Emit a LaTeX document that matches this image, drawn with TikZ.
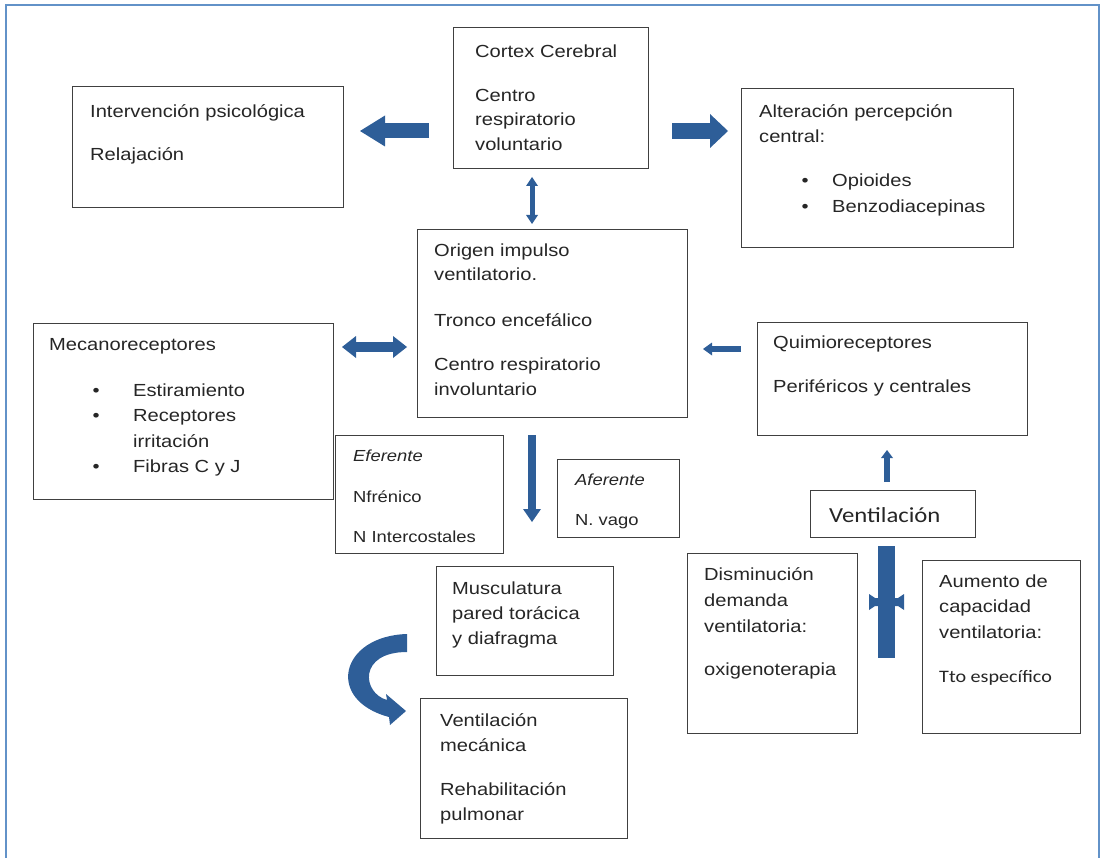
\documentclass[tikz,border=0pt]{standalone}
\usepackage{fontspec}
\setmainfont{Liberation Sans}[FakeStretch=1.15]
\newfontfamily\calib{Carlito}[FakeStretch=1.15]
\usetikzlibrary{arrows.meta}
\definecolor{arrowblue}{RGB}{46,94,152}
\definecolor{frameblue}{RGB}{98,146,200}
% invisible strut fixing the top of every text block 18pt above its first baseline
\newcommand\firstline{\rule{0pt}{18pt}}
% bullet item: indent, bullet column width, text
\newcommand\bul[3]{\hspace*{#1}\makebox[#2][l]{\textbullet}#3}

\begin{document}
\begin{tikzpicture}[x=1pt,y=-1pt,
  box/.style={draw=black!75, line width=1.4pt, fill=white, anchor=north west, inner sep=0pt},
  txt/.style={anchor=north west, yshift=18pt, inner sep=0pt, align=left, text=black!85},
  body/.style={font=\fontsize{17.5}{#1}\selectfont},
  small/.style={font=\fontsize{16}{#1}\selectfont},
  blk/.style={arrowblue, line cap=butt},
]
\useasboundingbox (0,0) rectangle (1102,858);

% page frame, open at the bottom
\draw[frameblue, line width=2pt] (6,858) -- (6,5) -- (1099,5) -- (1099,858);

% ---------- boxes ----------
\node[box, minimum width=195pt, minimum height=141pt] (cortex) at (453,27) {};
\node[box, minimum width=271pt, minimum height=121pt] (psych)  at (72,86) {};
\node[box, minimum width=272pt, minimum height=159pt] (alter)  at (741,88) {};
\node[box, minimum width=270pt, minimum height=188pt] (origen) at (417,229) {};
\node[box, minimum width=300pt, minimum height=176pt] (mecano) at (33,323) {};
\node[box, minimum width=270pt, minimum height=113pt] (quimio) at (757,322) {};
\node[box, minimum width=168pt, minimum height=118pt] (efer)   at (335,435) {};
\node[box, minimum width=122pt, minimum height=78pt]  (afer)   at (557,459) {};
\node[box, minimum width=165pt, minimum height=47pt]  (vent)   at (810,490) {};
\node[box, minimum width=177pt, minimum height=109pt] (musc)   at (436,566) {};
\node[box, minimum width=170pt, minimum height=180pt] (dism)   at (687,553) {};
\node[box, minimum width=158pt, minimum height=173pt] (aum)    at (922,560) {};
\node[box, minimum width=207pt, minimum height=140pt] (vmec)   at (420,698) {};

% ---------- texts ----------
\node[txt, body=24.5] (cortexT) at (475,57)
  {\firstline Cortex Cerebral\\[19.5pt] Centro\\ respiratorio\\ voluntario};
\node[txt, body=25] (psychT) at (90,117)
  {\firstline Intervención psicológica\\[18pt] Relajación};
\node[txt, body=25.5] (alterT) at (759,117)
  {\firstline Alteración percepción\\ central:\\[18.5pt]
   \bul{42.5pt}{30.5pt}{Opioides}\\ \bul{42.5pt}{30.5pt}{Benzodiacepinas}};
\node[txt, body=24.5] (origenT) at (434,256)
  {\firstline Origen impulso\\ ventilatorio.\\[21.5pt] Tronco encefálico\\[19.5pt]
   Centro respiratorio\\ involuntario};
\node[txt, body=25.5] (mecanoT) at (49,350)
  {\firstline Mecanoreceptores\\[20.5pt]
   \bul{43.5pt}{40.5pt}{Estiramiento}\\ \bul{43.5pt}{40.5pt}{Receptores}\\
   \hspace*{84pt}irritación\\ \bul{43.5pt}{40.5pt}{Fibras C y J}};
\node[txt, body=25] (quimioT) at (773,348)
  {\firstline Quimioreceptores\\[19pt] Periféricos y centrales};
\node[txt, small=20] (eferT) at (353,461)
  {\firstline\textit{Eferente}\\[21pt] Nfrénico\\[20pt] N Intercostales};
\node[txt, small=20] (aferT) at (575,485)
  {\firstline\textit{Aferente}\\[20pt] N. vago};
\node[txt, font=\calib\fontsize{21.5}{26}\selectfont] (ventT) at (829,522)
  {\firstline Ventilación};
\node[txt, body=25] (muscT) at (452,594)
  {\firstline Musculatura\\ pared torácica\\ y diafragma};
\node[txt, body=26] (dismT) at (704,580)
  {\firstline Disminución\\ demanda\\ ventilatoria:\\[17pt] oxigenoterapia};
\node[txt, body=25.5] (aumT) at (939,587)
  {\firstline Aumento de\\ capacidad\\ ventilatoria:};
\node[txt, font=\calib\fontsize{17.5}{22}\selectfont] (aumT2) at (939,682)
  {\firstline Tto específico};
\node[txt, body=25] (vmecT) at (440,726)
  {\firstline Ventilación\\ mecánica\\[19pt] Rehabilitación\\ pulmonar};

% ---------- arrow end points ----------
\coordinate (psA) at (429,131);  \coordinate (psB) at (360,131);
\coordinate (alA) at (672,131);  \coordinate (alB) at (728,131);
\coordinate (coA) at (532,177);  \coordinate (coB) at (532,224);
\coordinate (meA) at (342,347);  \coordinate (meB) at (407,347);
\coordinate (quA) at (741,349);  \coordinate (quB) at (703,349);
\coordinate (dnA) at (532,435);  \coordinate (dnB) at (532,522);
\coordinate (upA) at (887,482);  \coordinate (upB) at (887,450);
\coordinate (vbA) at (886.5,546); \coordinate (vbB) at (886.5,658);

% ---------- block arrows ----------
\draw[blk, line width=15pt, -{Triangle[length=25pt,width=31pt,line width=0pt]}] (psA) -- (psB);
\draw[blk, line width=16pt, -{Triangle[length=18pt,width=34pt,line width=0pt]}] (alA) -- (alB);
\draw[blk, line width=5pt, {Triangle[length=9pt,width=12pt,line width=0pt]}-{Triangle[length=9pt,width=12pt,line width=0pt]}] (coA) -- (coB);
\draw[blk, line width=10pt, {Triangle[length=14pt,width=22pt,line width=0pt]}-{Triangle[length=14pt,width=22pt,line width=0pt]}] (meA) -- (meB);
\draw[blk, line width=6pt, -{Triangle[length=9pt,width=13pt,line width=0pt]}] (quA) -- (quB);
\draw[blk, line width=8pt, -{Triangle[length=13pt,width=18pt,line width=0pt]}] (dnA) -- (dnB);
\draw[blk, line width=6pt, -{Triangle[length=8pt,width=12pt,line width=0pt]}] (upA) -- (upB);

% thick bar below Ventilación with its flared cross piece
\draw[blk, line width=17pt] (vbA) -- (vbB);
\fill[arrowblue] (869,594) -- (875,598) -- (898,598) -- (904,594) -- (904,610)
  -- (898,606) -- (875,606) -- (869,610) -- cycle;

% curved arrow from the chest-wall box down to the ventilation box
\fill[arrowblue] (407,634) .. controls (340,636) and (325,700) .. (389,717)
  -- (390,725) -- (406,711) -- (386,694) -- (387,700)
  .. controls (362,693) and (358,652) .. (407,652) -- cycle;
\end{tikzpicture}
\end{document}
